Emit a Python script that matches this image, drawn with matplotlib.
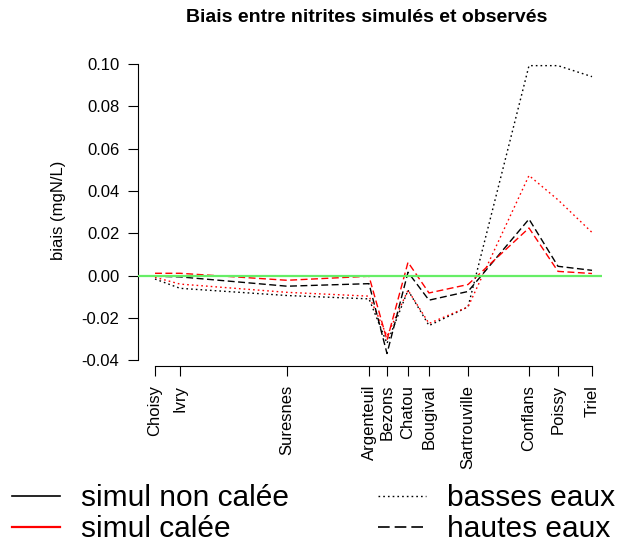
import matplotlib

matplotlib.use("Agg")
import matplotlib.pyplot as plt
from matplotlib.lines import Line2D

plt.rcParams["font.family"] = ["Liberation Sans", "DejaVu Sans"]

# stations along the river (approximate distance from Choisy, km)
stations = ["Choisy", "Ivry", "Suresnes", "Argenteuil", "Bezons", "Chatou",
            "Bougival", "Sartrouville", "Conflans", "Poissy", "Triel"]
distance_km = [0, 6.25, 33, 53.5, 58, 63.25, 68.5, 78.25, 93.5, 100.75, 109.25]

# bias (mgN/L)
non_calee_basses = [-0.0016, -0.0060, -0.0094, -0.0110, -0.0320, -0.0069,
                    -0.0236, -0.0148, 0.0992, 0.0992, 0.0940]
calee_basses = [-0.0008, -0.0040, -0.0079, -0.0097, -0.0285, -0.0069,
                -0.0226, -0.0148, 0.0473, 0.0358, 0.0204]
non_calee_hautes = [-0.0003, -0.0006, -0.0050, -0.0038, -0.0368, 0.0016,
                    -0.0116, -0.0075, 0.0267, 0.0044, 0.0025]
calee_hautes = [0.0011, 0.0011, -0.0022, -0.0003, -0.0305, 0.0063,
                -0.0082, -0.0042, 0.0225, 0.0020, 0.0010]

y_ticks = [-0.04, -0.02, 0.00, 0.02, 0.04, 0.06, 0.08, 0.10]

DOTTED = (0, (1.2, 2.2))
DASHED = (0, (5, 2.5))

W, H = 623, 547
fig = plt.figure(figsize=(W / 100, H / 100), dpi=100)
ax = fig.add_axes([138 / W, 1 - 366 / H, (602 - 138) / W, (366 - 54) / H])

ax.plot(distance_km, non_calee_basses, color="black", lw=1, linestyle=DOTTED)
ax.plot(distance_km, calee_basses, color="red", lw=1, linestyle=DOTTED)
ax.plot(distance_km, non_calee_hautes, color="black", lw=1, linestyle=DASHED)
ax.plot(distance_km, calee_hautes, color="red", lw=1, linestyle=DASHED)
ax.axhline(0, color="#66ee66", lw=1.6, zorder=5)

ax.set_xlim(-4.25, 111.75)
ax.set_ylim(-0.0427, 0.1047)

for side in ("top", "right"):
    ax.spines[side].set_visible(False)
ax.spines["left"].set_bounds(-0.04, 0.10)
ax.spines["bottom"].set_bounds(distance_km[0], distance_km[-1])

ax.set_yticks(y_ticks)
ax.set_yticklabels([f"{v:.2f}" for v in y_ticks])
ax.set_xticks(distance_km)
ax.set_xticklabels(stations, rotation=90)
ax.tick_params(direction="out", length=7.5, width=0.8, labelsize=12, pad=6)

fig.text(367 / W, 1 - 17 / H, "Biais entre nitrites simulés et observés",
         ha="center", va="center", fontsize=14, fontweight="bold")
fig.text(58 / W, 1 - 210 / H, "biais (mgN/L)", rotation=90,
         ha="center", va="center", fontsize=12)

left_handles = [Line2D([], [], color="black", lw=1.2),
                Line2D([], [], color="red", lw=1.6)]
right_handles = [Line2D([], [], color="black", lw=1, linestyle=DOTTED),
                 Line2D([], [], color="black", lw=1.2, linestyle=(0, (7, 3)))]

legend_style = dict(loc="upper left", frameon=False, fontsize=21.5,
                    handlelength=1.6, handletextpad=0.72, labelspacing=0.1,
                    borderpad=0, borderaxespad=0)
fig.legend(left_handles, ["simul non calée", "simul calée"],
           bbox_to_anchor=(12 / W, 1 - 484 / H), **legend_style)
fig.legend(right_handles, ["basses eaux", "hautes eaux"],
           bbox_to_anchor=(378 / W, 1 - 484 / H), **legend_style)

fig.savefig("out.png", dpi=100)
plt.close(fig)
